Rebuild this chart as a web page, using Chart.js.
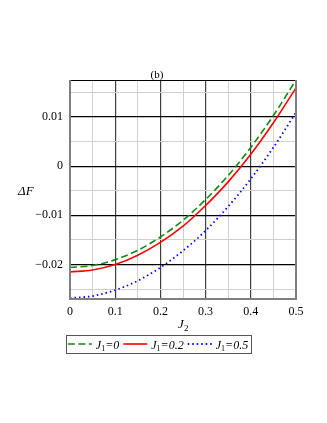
<!DOCTYPE html>
<html><head><meta charset="utf-8">
<script src="https://cdn.jsdelivr.net/npm/chart.js@4/dist/chart.umd.min.js"></script>
<style>html,body{margin:0;padding:0;background:#fff}#wrap{width:327px;height:423px}</style>
</head><body><div id="wrap"><canvas id="c" width="327" height="423"></canvas></div>
<script>
const J2 = [0, 0.05, 0.1, 0.15, 0.2, 0.25, 0.3, 0.35, 0.4, 0.45, 0.5];
const dF_J1_0   = [-0.0206, -0.0202, -0.0190, -0.0171, -0.0144, -0.0110, -0.0068, -0.0019, 0.0038, 0.0103, 0.0175];
const dF_J1_02  = [-0.0215, -0.0211, -0.0200, -0.0181, -0.0155, -0.0122, -0.0080, -0.0032, 0.0024, 0.0088, 0.0159];
const dF_J1_05  = [-0.0268, -0.0264, -0.0252, -0.0233, -0.0206, -0.0172, -0.0131, -0.0082, -0.0026, 0.0038, 0.0109];
const seriesSub = ["1", "1", "1"];
const seriesVal = ["=0", "=0.2", "=0.5"];
const xTicks = [0, 0.05, 0.1, 0.15, 0.2, 0.25, 0.3, 0.35, 0.4, 0.45, 0.5];
const xLabels = ["0", "0.1", "0.2", "0.3", "0.4", "0.5"];
const yTicks = [-0.025, -0.02, -0.015, -0.01, -0.005, 0, 0.005, 0.01, 0.015];
const yLabels = ["−0.02", "−0.01", "0", "0.01"];
const titleText = "(b)";

const pts = ys => J2.map((x, i) => ({x, y: ys[i]}));
const isMajor = v => Math.abs(v / 0.1 - Math.round(v / 0.1)) < 1e-6;
const isMajorY = v => Math.abs(v / 0.01 - Math.round(v / 0.01)) < 1e-6;
const SERIF = '"Liberation Serif", "DejaVu Serif", serif';

const deco = {
  id: 'deco',
  afterDraw(chart) {
    const ctx = chart.ctx, a = chart.chartArea;
    ctx.save();
    // frame
    ctx.strokeStyle = '#000'; ctx.lineWidth = 1.2;
    ctx.beginPath(); ctx.moveTo(a.left, a.top + 0.5); ctx.lineTo(a.right, a.top + 0.5); ctx.stroke();
    ctx.strokeStyle = '#808080'; ctx.lineWidth = 2;
    ctx.beginPath();
    ctx.moveTo(a.left, a.top); ctx.lineTo(a.left, a.bottom); ctx.lineTo(a.right, a.bottom); ctx.lineTo(a.right, a.top);
    ctx.stroke();
    // title
    ctx.fillStyle = '#000';
    ctx.font = '11px ' + SERIF;
    ctx.textAlign = 'center'; ctx.textBaseline = 'alphabetic';
    ctx.fillText(titleText, 157, 78);
    // y title ΔF
    ctx.font = 'italic 13px ' + SERIF;
    ctx.textAlign = 'left';
    ctx.fillText('ΔF', 18, 195);
    // x title J2
    ctx.fillText('J', 178, 328);
    ctx.font = '9px ' + SERIF;
    ctx.fillText('2', 184, 331);
    // legend
    const ds = chart.data.datasets;
    const lineW = 24, gap = 4;
    const mainFont = 'italic 12px ' + SERIF, subFont = '8px ' + SERIF;
    const widths = ds.map((d, i) => {
      ctx.font = mainFont; let w = ctx.measureText('J').width + ctx.measureText(seriesVal[i]).width;
      ctx.font = subFont; w += ctx.measureText(seriesSub[i]).width;
      return w;
    });
    const total = widths.reduce((s, w) => s + lineW + gap + w + gap, 0) - gap;
    const cx = 158, bx0 = 66, bx1 = 251, by0 = 335, by1 = 353;
    ctx.strokeStyle = '#555'; ctx.lineWidth = 1; ctx.setLineDash([]);
    ctx.strokeRect(bx0 + 0.5, by0 + 0.5, bx1 - bx0, by1 - by0);
    let x = cx - total / 2;
    const ly = (by0 + by1) / 2;
    ds.forEach((d, i) => {
      ctx.save();
      ctx.strokeStyle = d.borderColor; ctx.lineWidth = d.borderWidth;
      ctx.setLineDash(d.borderDash || []);
      ctx.beginPath(); ctx.moveTo(x, ly); ctx.lineTo(x + lineW, ly); ctx.stroke();
      ctx.restore();
      x += lineW + gap;
      ctx.fillStyle = '#000';
      ctx.font = mainFont; ctx.fillText('J', x, ly + 4.5); x += ctx.measureText('J').width;
      ctx.font = subFont; ctx.fillText(seriesSub[i], x, ly + 6.5); x += ctx.measureText(seriesSub[i]).width;
      ctx.font = mainFont; ctx.fillText(seriesVal[i], x, ly + 4.5); x += ctx.measureText(seriesVal[i]).width;
      x += gap;
    });
    ctx.restore();
  }
};

new Chart(document.getElementById('c'), {
  type: 'line',
  data: {
    datasets: [
      {label: 'J1=0', data: pts(dF_J1_0), borderColor: '#118a11', borderWidth: 1.6, borderDash: [7, 3.5], pointRadius: 0, cubicInterpolationMode: 'monotone', fill: false},
      {label: 'J1=0.2', data: pts(dF_J1_02), borderColor: '#ff0000', borderWidth: 1.6, pointRadius: 0, cubicInterpolationMode: 'monotone', fill: false},
      {label: 'J1=0.5', data: pts(dF_J1_05), borderColor: '#0000ff', borderWidth: 1.8, borderDash: [1.5, 3], pointRadius: 0, cubicInterpolationMode: 'monotone', fill: false}
    ]
  },
  options: {
    responsive: false, animation: false,
    layout: {padding: {left: 0, right: 31, top: 80, bottom: 94}},
    plugins: {legend: {display: false}, tooltip: {enabled: false}, title: {display: false}},
    scales: {
      x: {
        type: 'linear', min: 0, max: 0.5,
        afterBuildTicks: s => { s.ticks = xTicks.map(v => ({value: v})); },
        afterFit: s => { s.height = 30; },
        grid: {drawTicks: false, color: c => isMajor(c.tick.value) ? '#404040' : '#d0d0d0', lineWidth: c => isMajor(c.tick.value) ? 1.2 : 1},
        border: {display: false},
        ticks: {padding: 6, autoSkip: false, maxRotation: 0, color: '#000', font: {family: SERIF, size: 12},
          callback: v => isMajor(v) ? xLabels[Math.round(v / 0.1)] : ''}
      },
      y: {
        type: 'linear', min: -0.027, max: 0.0175,
        afterBuildTicks: s => { s.ticks = yTicks.map(v => ({value: v})); },
        afterFit: s => { s.width = 70; },
        grid: {drawTicks: false, color: c => isMajorY(c.tick.value) ? '#000' : '#d0d0d0', lineWidth: c => isMajorY(c.tick.value) ? 1.2 : 1},
        border: {display: false},
        ticks: {padding: 7, autoSkip: false, color: '#000', font: {family: SERIF, size: 12},
          callback: v => isMajorY(v) ? yLabels[Math.round(v / 0.01) + 2] : ''}
      }
    }
  },
  plugins: [deco]
});
</script></body></html>
